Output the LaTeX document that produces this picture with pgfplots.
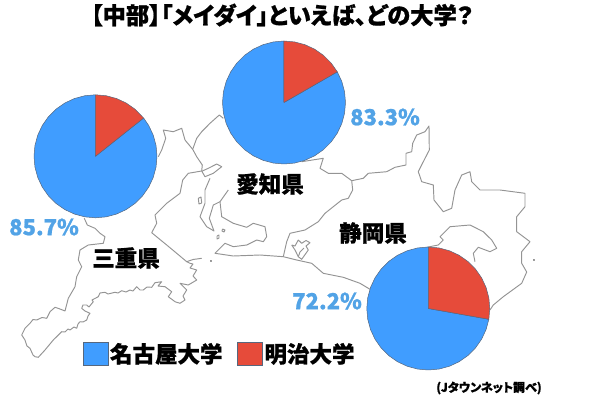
\documentclass[border=0pt]{standalone}
\usepackage{fontspec}
\usepackage{pgfplots}
\pgfplotsset{compat=1.18}
\usepgfplotslibrary{polar}
\setmainfont{Noto Sans CJK JP}[RawFeature=+palt,BoldFeatures={FakeBold=0.9}]
\definecolor{meidai}{HTML}{409DFF}
\definecolor{meiji}{HTML}{E64B3A}
\definecolor{pct}{HTML}{52A3E6}
\definecolor{edge}{HTML}{56677E}
\definecolor{mapline}{HTML}{949494}
\pgfplotsset{
  pie/.style={scale only axis,width=123pt,height=123pt,hide axis,clip=false,
    xmin=0,xmax=360,ymin=0,ymax=1,anchor=center},
  slice/.style={fill=#1,draw=edge,line width=0.5pt,line join=round,no markers},
  border/.style={draw=mapline,line width=0.95pt,line join=round,no markers,forget plot},
}
\newcommand{\fs}[1]{\fontsize{#1}{#1}\selectfont\bfseries}
\begin{document}
\begin{tikzpicture}
\path[use as bounding box] (0,0) rectangle (590pt,418pt);
\begin{axis}[
  at={(0,0)},anchor=south west,scale only axis,width=590pt,height=418pt,
  xmin=0,xmax=590,ymin=0,ymax=418,y dir=reverse,hide axis,clip=false,
  legend style={at={(axis cs:83,353.5)},anchor=west,draw=none,fill=none,inner sep=0pt,outer sep=0pt,
    legend columns=2,font=\fs{22.5},nodes={inner sep=0pt,outer sep=0pt},
    /tikz/every odd column/.append style={column sep=2pt},
    /tikz/every even column/.append style={column sep=15pt}},
  legend cell align=left,
]
% Mie: west border and south coast round to Shima, then up the bay
\addplot[border] coordinates {(84.3,218.3)(87.3,225)(95,228.3)(100,233.3)(105,236.7)(103.3,243.3)(88.3,245)(80,250)(78.3,260)(81.7,266.7)(76.7,276.7)(75,286.7)(68.3,298.3)(65,311)(60,309)(55,307.3)(50,311.7)(46.7,318.3)(42,317.5)(36.7,320)(33,319.5)(30,323.3)(25,328.3)(21.7,335)(25,340)(27,346)(30,348.3)(33,355)(35,356.7)(38.3,357.3)(45,350)(53.3,340)(61.7,331.7)(65,332)(68,329)(70,330)(74,327)(76.7,328.3)(78,324)(80,321.7)(83,322)(86.7,320)(88,316)(90,313.3)(85,311)(81.7,308.3)(83,305)(86.7,305)(89,307)(93.3,301.7)(92,300)(98.3,296.7)(100,293)(105,292.3)(108,294)(115,292.3)(118,293)(121.7,290.7)(126,292)(130,290)(133,291)(136.7,286.7)(140,290)(143.3,290)(147,287)(151.7,287.3)(155,282.7)(161.7,281.7)(158,286)(165,286.7)(171.7,291.7)(168.3,296.7)(175,301.7)(180,303.3)(185,300)(183,296)(186.7,290)(180,283.3)(188.3,285)(196.7,280)(193,276)(196.7,270)(190,268)(193,264)(190,263.3)(186.7,261.7)(176.7,253.3)(166.7,245)(151.7,232.7)(156.7,223.3)(155,215)(166.7,203.3)(180,193.3)(182.7,180)(188.3,173.3)(201.7,171)};
\addplot[border] coordinates {(186.7,261.7)(193,259.5)(201.7,258.3)};
% Mie--Gifu and Aichi--Gifu borders
\addplot[border] coordinates {(158.3,156.7)(161.7,150)(165.7,138.3)(163.3,130)(173.3,131.7)(181.7,128.3)(185,140)(192.7,149.3)(196.7,156.7)(202.3,165)(201.7,171)};
\addplot[border] coordinates {(192.7,149.3)(196.7,138.3)(201.7,131.7)(210,123.3)(219.3,115)(223.3,118.3)};
% Nagoya harbour
\addplot[border] coordinates {(201.7,171)(205,176.7)(213.3,173.3)(221.7,166.7)(216.7,164)(208.3,168.3)(202.3,171)};
% Chita, Mikawa bay, Atsumi
\addplot[border] coordinates {(210,178.3)(205,190)(205,203.3)(200,216.7)(206.7,226.7)(214,231)(209.3,218.3)(213.3,205)(220,201.7)(228.3,190)};
\addplot[border] coordinates {(220,201.7)(221.7,216.7)(233.3,223.3)(246.7,227.3)(253.3,223.3)(265,226.7)(266.7,236.7)(263.3,241.7)(256.7,240)(246.7,245)(233.3,246.7)(225,243.3)(215,253.3)(233.3,256)(260,255)(283.3,256.7)(296.7,260)(311.7,263.3)(323.3,273.3)(343.3,277.3)(360,283.3)(370,289.3)};
% small islands and Hamana lake
\addplot[border] coordinates {(198.3,198.3)(201,197)(201.7,203)(199,204)(198.3,198.3)};
\addplot[border] coordinates {(222.5,229)(225,230)(224,232)(222,231)(222.5,229)};
\addplot[border] coordinates {(217,236)(219,235)(219,238)(217,239)(217,236)};
\addplot[border] coordinates {(210.2,260.2)(211.2,260.2)(211.2,261.2)(210.2,261.2)(210.2,260.2)};
\addplot[border] coordinates {(533,259)(534,259)(534,260)(533,260)(533,259)};
\addplot[border] coordinates {(291.7,245)(295,246)(298.3,240)(301.7,243.3)(306,240.5)(310,242.7)(306,246)(308.3,250)(301.7,259.3)(298.3,256.7)(295,250)(291.7,245)};
\addplot[border] coordinates {(304,248)(300,252)(298.3,256.7)};
% Aichi--Shizuoka border
\addplot[border] coordinates {(283.3,256.7)(286.7,241.7)(290,233.3)(305,230)(318.3,221.7)(325,213.3)(341.7,200)(348.3,198.3)(352.7,190)(351.7,180.7)};
% northern edge of Aichi and Shizuoka
\addplot[border] coordinates {(301.7,161.7)(323.3,158.3)(320,168.3)(328.3,173.3)(341.7,173.3)(351.7,180.7)(363.3,178.3)(368.3,173.3)(386.7,171.7)(395,167.3)(406,165)(406,153.3)(411.7,151.7)(412.7,143.3)(416.7,135)(425,131.7)(429,126)(429.3,150)(423.3,161.7)(418.3,171.7)(421.7,181.7)(433.3,185)(434,200)(443.3,211.7)(451.7,208.3)(455,190)(461.7,175)(470,171.7)(471.7,181.7)(480,190)(500,190)(525,193.3)(525,206.7)(516.7,216.7)(516.7,231.7)(530,241.7)(521.7,251.7)(521.7,263.3)(526.7,272)(521.7,283.3)(503.3,296.7)(493.3,305)(490,310)};
% Suruga bay
\addplot[border] coordinates {(426.7,247.3)(438.3,245)(443.3,240)(440,236.7)(450,226.7)(470,225)(483.3,231.7)(491.7,240)(496.7,248.3)(490,251.7)(478.3,247.3)(473.3,253.3)(475,261.7)};
\addlegendimage{legend image code/.code={\draw[fill=meidai,draw=edge,line width=0.5pt] (0pt,-11.7pt) rectangle (24.5pt,11.7pt);}}
\addlegendentry{名古屋大学}
\addlegendimage{legend image code/.code={\draw[fill=meiji,draw=edge,line width=0.5pt] (0pt,-11.7pt) rectangle (24.5pt,11.7pt);}}
\addlegendentry{明治大学}
\node[anchor=center] at (axis cs:282,15) {\fs{23.3}【中部】「メイダイ」といえば、どの大学？};
\node at (axis cs:270,184) {\fs{22.5}愛知県};
\node at (axis cs:126,258) {\fs{22.5}三重県};
\node at (axis cs:373,233) {\fs{22.5}静岡県};
\node[text=pct] at (axis cs:44,227) {\fs{22}85.7\%};
\node[text=pct] at (axis cs:385,117) {\fs{22}83.3\%};
\node[text=pct] at (axis cs:327,301) {\fs{22}72.2\%};
\node at (axis cs:489,388) {\fs{12}(Jタウンネット調べ)};
\end{axis}
% Mie: Nagoya 85.7, Meiji 14.3
\begin{polaraxis}[pie,at={(95.5pt,261.7pt)}]
\addplot[slice=meidai] coordinates {(0,0)(38.5,1)(30,1)(20,1)(10,1)(0,1)(350,1)(340,1)(330,1)(320,1)(310,1)(300,1)(290,1)(280,1)(270,1)(260,1)(250,1)(240,1)(230,1)(220,1)(210,1)(200,1)(190,1)(180,1)(170,1)(160,1)(150,1)(140,1)(130,1)(120,1)(110,1)(100,1)(90,1)(0,0)};
\addplot[slice=meiji] coordinates {(0,0)(90,1)(80,1)(70,1)(60,1)(50,1)(38.5,1)(0,0)};
\end{polaraxis}
% Aichi: Nagoya 83.3, Meiji 16.7
\begin{polaraxis}[pie,at={(284pt,315.5pt)}]
\addplot[slice=meidai] coordinates {(0,0)(29.9,1)(20,1)(10,1)(0,1)(350,1)(340,1)(330,1)(320,1)(310,1)(300,1)(290,1)(280,1)(270,1)(260,1)(250,1)(240,1)(230,1)(220,1)(210,1)(200,1)(190,1)(180,1)(170,1)(160,1)(150,1)(140,1)(130,1)(120,1)(110,1)(100,1)(90,1)(0,0)};
\addplot[slice=meiji] coordinates {(0,0)(90,1)(80,1)(70,1)(60,1)(50,1)(40,1)(29.9,1)(0,0)};
\end{polaraxis}
% Shizuoka: Nagoya 72.2, Meiji 27.8
\begin{polaraxis}[pie,at={(428.3pt,109.5pt)}]
\addplot[slice=meidai] coordinates {(0,0)(349.9,1)(340,1)(330,1)(320,1)(310,1)(300,1)(290,1)(280,1)(270,1)(260,1)(250,1)(240,1)(230,1)(220,1)(210,1)(200,1)(190,1)(180,1)(170,1)(160,1)(150,1)(140,1)(130,1)(120,1)(110,1)(100,1)(90,1)(0,0)};
\addplot[slice=meiji] coordinates {(0,0)(90,1)(80,1)(70,1)(60,1)(50,1)(40,1)(30,1)(20,1)(10,1)(0,1)(349.9,1)(0,0)};
\end{polaraxis}
\end{tikzpicture}
\end{document}
